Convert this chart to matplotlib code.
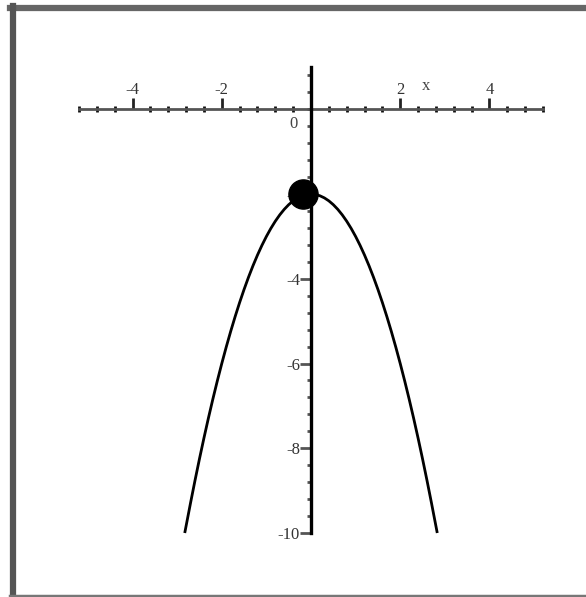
import matplotlib.pyplot as plt
from matplotlib.lines import Line2D
from matplotlib.ticker import MultipleLocator, FixedLocator

plt.rcParams['axes.unicode_minus'] = False
plt.rcParams['font.family'] = ['Liberation Serif', 'DejaVu Serif']

# curve points
curve_x = [-2.83, -2.7, -2.6, -2.5, -2.4, -2.3, -2.2, -2.1, -2.0, -1.9, -1.8, -1.7, -1.6, -1.5,
           -1.4, -1.3, -1.2, -1.1, -1.0, -0.9, -0.8, -0.7, -0.6, -0.5, -0.4, -0.3, -0.2, -0.1, 0.0,
           0.1, 0.2, 0.3, 0.4, 0.5, 0.6, 0.7, 0.8, 0.9, 1.0, 1.1, 1.2, 1.3, 1.4,
           1.5, 1.6, 1.7, 1.8, 1.9, 2.0, 2.1, 2.2, 2.3, 2.4, 2.5, 2.6, 2.7, 2.83]
curve_y = [-10.0, -9.29, -8.76, -8.25, -7.76, -7.29, -6.84, -6.41, -6.0, -5.61, -5.24, -4.89, -4.56, -4.25,
           -3.96, -3.69, -3.44, -3.21, -3.0, -2.81, -2.64, -2.49, -2.36, -2.25, -2.16, -2.09, -2.04, -2.01, -2.0,
           -2.01, -2.04, -2.09, -2.16, -2.25, -2.36, -2.49, -2.64, -2.81, -3.0, -3.21, -3.44, -3.69, -3.96,
           -4.25, -4.56, -4.89, -5.24, -5.61, -6.0, -6.41, -6.84, -7.29, -7.76, -8.25, -8.76, -9.29, -10.0]
dot_x = [-0.18]
dot_y = [-2.0]

x_ticks = [-4, -2, 2, 4]
x_labels = ['-4', '-2', '2', '4']
y_ticks = [-10, -8, -6, -4, -2]
y_labels = ['-10', '-8', '-6', '-4', '-2']

W, H = 586, 597
fig = plt.figure(figsize=(W / 100, H / 100), dpi=100)
ax = fig.add_axes([79 / W, (H - 533) / H, 464 / W, 466 / H])
ax.set_xlim(-5.2, 5.2)
ax.set_ylim(-10, 1)

ax.plot(curve_x, curve_y, color='black', lw=2.0, clip_on=False, zorder=3,
        solid_capstyle='butt')
ax.plot(dot_x, dot_y, 'o', color='black', markersize=21, clip_on=False, zorder=5)

# axes through the origin
for s in ['right', 'bottom']:
    ax.spines[s].set_visible(False)
ax.spines['top'].set_position(('data', 0))
ax.spines['left'].set_position(('data', 0))
ax.spines['top'].set_color('#555555')
ax.spines['top'].set_linewidth(2.0)
ax.spines['left'].set_color('black')
ax.spines['left'].set_linewidth(2.4)
ax.spines['left'].set_zorder(4)

ax.xaxis.set_ticks_position('top')
ax.xaxis.set_major_locator(FixedLocator(x_ticks))
ax.set_xticklabels(x_labels)
ax.xaxis.set_minor_locator(MultipleLocator(0.4))
ax.tick_params(axis='x', which='major', direction='out', length=8, width=2,
               color='#222222', pad=0, labelsize=12, labelcolor='#333333')
ax.tick_params(axis='x', which='minor', direction='inout', length=4, width=2,
               color='#111111')

ax.yaxis.set_major_locator(FixedLocator(y_ticks))
ax.set_yticklabels(y_labels)
ax.yaxis.set_minor_locator(MultipleLocator(0.4))
ax.tick_params(axis='y', which='major', direction='out', length=8, width=2,
               color='#555555', pad=0, labelsize=12, labelcolor='#333333')
ax.tick_params(axis='y', which='minor', direction='out', length=3, width=2,
               color='#555555')

ax.text(-0.4, -0.35, '0', ha='center', va='center', fontsize=12, color='#444444')
ax.text(2.58, 0.54, 'x', ha='center', va='center', fontsize=12, color='#444444')

# gray frame around the picture (open on the right)
fig.add_artist(Line2D([10 / W, 1], [1 - 8 / H, 1 - 8 / H], transform=fig.transFigure,
                      color='#666666', lw=4.5))
fig.add_artist(Line2D([13 / W, 13 / W], [0, 1 - 6 / H], transform=fig.transFigure,
                      color='#555555', lw=4.5))
fig.add_artist(Line2D([10 / W, 1], [1.5 / H, 1.5 / H], transform=fig.transFigure,
                      color='#777777', lw=2.5))

fig.savefig('out.png', dpi=100, facecolor='white')
